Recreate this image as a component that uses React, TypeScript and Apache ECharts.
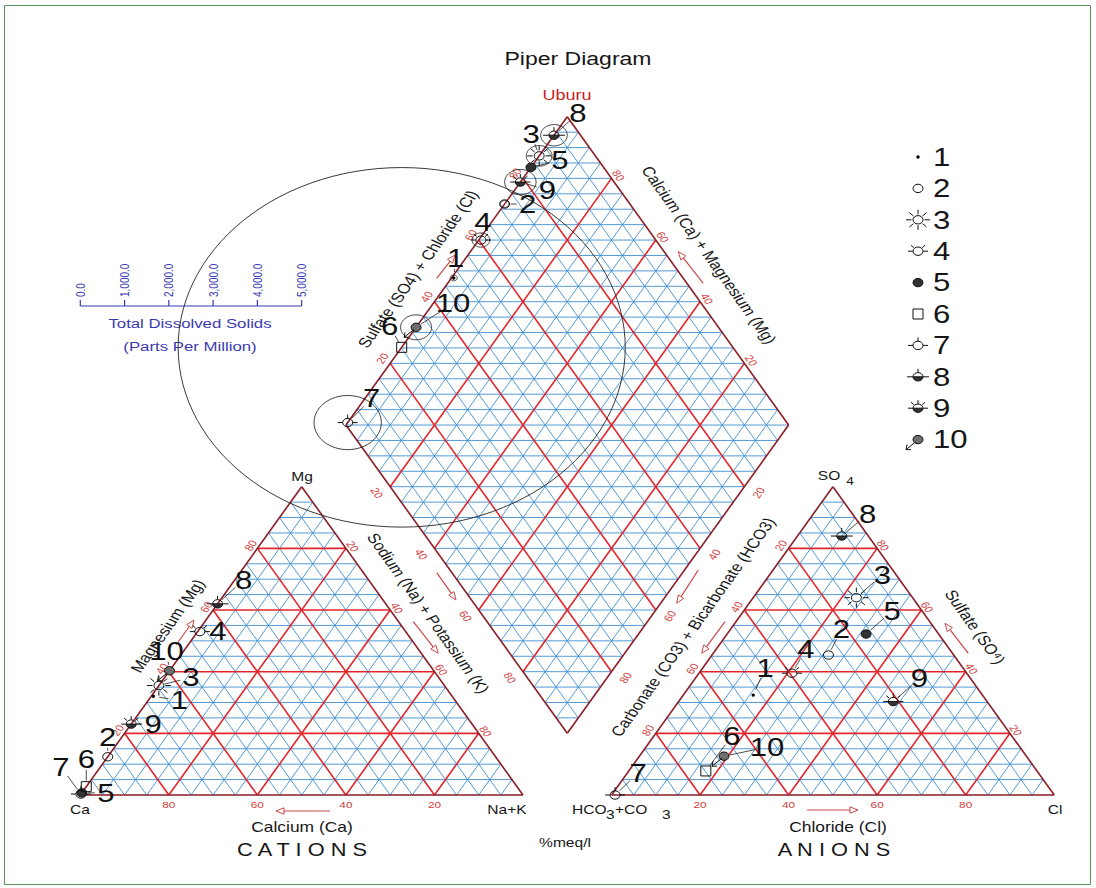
import React, { useEffect, useRef } from 'react';
import * as echarts from 'echarts';

// ---------------- data ----------------
const sampleIds = ['1', '2', '3', '4', '5', '6', '7', '8', '9', '10'];
// cations, % meq/l (Ca = 100 - Mg - Na+K)
const cationMg = [32, 12.4, 35.5, 53, 0.7, 2.7, 0.3, 62, 23, 40.3];
const cationNaK = [0.5, 0, 0, 0.5, 0, 0, 0, 0, 0, 0];
// anions, % meq/l (HCO3+CO3 = 100 - SO4 - Cl)
const anionSO4 = [32.4, 45.4, 64, 39.5, 52.2, 7.8, 0, 84, 30.3, 12.6];
const anionCl = [15.8, 26.3, 23.3, 21, 31.4, 17.4, 0.8, 10, 48.5, 19.1];
// total dissolved solids, ppm
const tdsPpm = [80, 95, 290, 200, 70, 5050, 760, 300, 355, 350];
const majorTicks = [20, 40, 60, 80];
const tdsTicks = [0, 1000, 2000, 3000, 4000, 5000];
const tdsTickLabels = ['0.0', '1,000.0', '2,000.0', '3,000.0', '4,000.0', '5,000.0'];

// ---------------- layout ----------------
const W = 1096, H = 888;
const PXU_X = 4.427, PXU_Y = 3.56, ORG_X = 80.3, ORG_Y = 795;
const X_MIN = -ORG_X / PXU_X, X_MAX = (W - ORG_X) / PXU_X;
const Y_MIN = -(H - ORG_Y) / PXU_Y, Y_MAX = ORG_Y / PXU_Y;
const K = PXU_X / PXU_Y; // horizontal stretch of the picture
const px = (u: number) => ORG_X + u * PXU_X;
const FONT = '"Liberation Sans", Arial, Helvetica, sans-serif';
const BLUE = '#3f8fd0', RED = '#e3262c', OUTLINE = '#8a1d26', TICK_RED = '#d23c3c', ARROW = '#c94848', TDS_BLUE = '#3a3ab0';
const R60 = Math.PI / 3;

const S = Math.sqrt(3) / 2, GAP = 20;
const cat = (mg: number, na: number) => [na + mg / 2, S * mg];
const ani = (so4: number, cl: number) => [100 + GAP + cl + so4 / 2, S * so4];
const dia = (na: number, a: number) => [(100 + GAP + a + na) / 2, S * (100 + GAP + a - na)];

// label offsets (pixels) for the sample numbers, per panel
const offCat = [[26, 4], [0, -20], [32, -8], [18, 0], [24, 0], [0, -28], [-20, -27], [26, -24], [22, 0], [-3, -20]];
const offAni = [[12, -27], [13, -26], [26, -23], [14, -24], [26, -23], [26, -35], [23, -22], [26, -22], [26, -23], [43, -9]];
const offDia = [[2, -20], [23, 0], [-8, -22], [2, -18], [29, -7], [-12, -21], [24, -24], [24, -22], [27, 8], [37, -24]];
const offsets = [offCat, offAni, offDia];

// ---------------- geometry built from data ----------------
function buildSegments() {
  const segs: number[][] = [];
  const add = (p: number[], q: number[], kind: number) => segs.push([p[0], p[1], q[0], q[1], kind]);
  for (let k = 5; k < 100; k += 5) {
    const kind = k % 20 === 0 ? 1 : 0;
    add(cat(k, 0), cat(k, 100 - k), kind);
    add(cat(0, k), cat(100 - k, k), kind);
    add(cat(0, 100 - k), cat(100 - k, 0), kind);
    add(ani(k, 0), ani(k, 100 - k), kind);
    add(ani(0, k), ani(100 - k, k), kind);
    add(ani(0, 100 - k), ani(100 - k, 0), kind);
    add(dia(k, 0), dia(k, 100), kind);
    add(dia(0, k), dia(100, k), kind);
  }
  for (let d = -95; d <= 95; d += 5) {
    if (d >= 0) add(dia(0, d), dia(100 - d, 100), 0);
    else add(dia(-d, 0), dia(100, 100 + d), 0);
  }
  const tri = (a: number[], b: number[], c: number[]) => { add(a, b, 2); add(b, c, 2); add(c, a, 2); };
  tri(cat(0, 0), cat(0, 100), cat(100, 0));
  tri(ani(0, 0), ani(0, 100), ani(100, 0));
  add(dia(0, 0), dia(100, 0), 2); add(dia(100, 0), dia(100, 100), 2);
  add(dia(100, 100), dia(0, 100), 2); add(dia(0, 100), dia(0, 0), 2);
  segs.sort((a, b) => a[4] - b[4]);
  return segs;
}

const tickKinds = [
  { dx: 0, dy: 9, rot: 0 },
  { dx: -7, dy: -3, rot: R60 },
  { dx: 7, dy: -2, rot: -R60 },
  { dx: -8, dy: -3, rot: R60 },
  { dx: 6, dy: -3, rot: -R60 },
  { dx: -8, dy: -5, rot: R60 },
  { dx: 7, dy: -3, rot: -R60 },
  { dx: -13, dy: 6, rot: -R60 },
  { dx: 14, dy: 6, rot: R60 },
];
function buildTicks() {
  const t: number[][] = [];
  const add = (p: number[], val: number, kind: number) => t.push([p[0], p[1], val, kind]);
  majorTicks.forEach((k) => {
    add(cat(0, k), 100 - k, 0);
    add(cat(k, 0), k, 1);
    add(cat(100 - k, k), k, 2);
    add(ani(0, k), k, 0);
    add(ani(100 - k, 0), k, 3);
    add(ani(k, 100 - k), k, 4);
    add(dia(0, k), k, 5);
    add(dia(100 - k, 100), k, 6);
    add(dia(k, 0), k, 7);
    add(dia(100, 100 - k), k, 8);
  });
  return t;
}

// ---------------- symbols ----------------
function symbolEls(i: number): any[] {
  const rx = 5, ry = 4.2;
  const st = { stroke: '#111', lineWidth: 1, fill: 'none' };
  const E = (fill = 'none') => ({ type: 'ellipse', shape: { cx: 0, cy: 0, rx, ry }, style: { ...st, fill } });
  const L = (x1: number, y1: number, x2: number, y2: number) => ({ type: 'line', shape: { x1, y1, x2, y2 }, style: { stroke: '#111', lineWidth: 1 } });
  const half = () => ({
    type: 'polygon',
    shape: { points: Array.from({ length: 13 }, (_, j) => [rx * Math.cos((Math.PI * j) / 12), ry * Math.sin((Math.PI * j) / 12)]) },
    style: { fill: '#333', stroke: 'none' },
  });
  const ray = (a: number, r0: number, r1: number) => L(r0 * Math.cos(a), -r0 * Math.sin(a) * 0.84, r1 * Math.cos(a), -r1 * Math.sin(a) * 0.84);
  switch (i) {
    case 0: return [{ type: 'circle', shape: { cx: 0, cy: 0, r: 1.7 }, style: { fill: '#000' } }];
    case 1: return [E()];
    case 2: return [E(), ...[0, 1, 2, 3, 4, 5, 6, 7].map((j) => ray((j * Math.PI) / 4, 6.5, 12))];
    case 3: return [E(), L(-10, 0, -5, 0), L(5, 0, 10, 0), ray(Math.PI / 4, 6, 10), ray((3 * Math.PI) / 4, 6, 10)];
    case 4: return [E('#333')];
    case 5: return [{ type: 'rect', shape: { x: -5, y: -5, width: 10, height: 10 }, style: st }];
    case 6: return [E(), L(-10, 0, -5, 0), L(5, 0, 10, 0), L(0, -4.2, 0, -8)];
    case 7: return [half(), E(), L(-11, 0, 11, 0), L(0, -8, 0, -4.2)];
    case 8: return [half(), E(), L(-10, 0, 10, 0), ray(Math.PI / 4, 6, 10), ray((3 * Math.PI) / 4, 6, 10), L(0, -4.2, 0, -8)];
    default: return [E('#6f6f6f'), L(-2, 2, -12, 10), L(-12, 10, -7, 10), L(-12, 10, -11, 5)];
  }
}

function txt(x: number, y: number, text: string, size: number, o: any = {}) {
  const align = o.align || 'center';
  const va = o.va || 'middle';
  return {
    type: 'group', x, y, scaleX: K, silent: true,
    children: [{
      type: 'text', rotation: o.rot || 0,
      style: { text, x: 0, y: 0, fill: o.color || '#161616', fontSize: size, fontFamily: FONT, align, verticalAlign: va, textAlign: align, textVerticalAlign: va },
    }],
  };
}

function arrow(x1: number, y1: number, x2: number, y2: number) {
  const dx = x2 - x1, dy = y2 - y1, L = Math.hypot(dx, dy), ux = dx / L, uy = dy / L;
  const hl = 8, hw = 3.2, bx = x2 - ux * hl, by = y2 - uy * hl;
  return [
    { type: 'line', shape: { x1, y1, x2: bx, y2: by }, style: { stroke: ARROW, lineWidth: 1.2 } },
    { type: 'polygon', shape: { points: [[x2, y2], [bx - uy * hw, by + ux * hw], [bx + uy * hw, by - ux * hw]] }, style: { fill: '#fff', stroke: ARROW, lineWidth: 1 } },
  ];
}

function buildGraphic() {
  const g: any[] = [];
  g.push({ type: 'rect', shape: { x: 4.5, y: 5.5, width: 1086, height: 879 }, style: { fill: 'none', stroke: '#5b935b', lineWidth: 1 }, z: 0 });
  // titles and vertex labels
  g.push(txt(578, 58, 'Piper Diagram', 18.5));
  g.push(txt(567, 95, 'Uburu', 14.5, { color: '#cc1f1f' }));
  g.push(txt(302, 477, 'Mg', 12.5));
  g.push(txt(80, 810, 'Ca', 12.5));
  g.push(txt(507, 810, 'Na+K', 12.5));
  g.push(txt(572, 810, 'HCO', 12.5, { align: 'left' }));
  g.push(txt(606, 815, '3', 12.5, { align: 'left' }));
  g.push(txt(615, 810, '+CO', 12.5, { align: 'left' }));
  g.push(txt(662, 815, '3', 12.5, { align: 'left' }));
  g.push(txt(1055, 810, 'Cl', 12.5));
  g.push(txt(829, 476, 'SO', 12.5));
  g.push(txt(850, 481, '4', 11));
  g.push(txt(302, 827, 'Calcium (Ca)', 14));
  g.push(txt(302, 850, 'C A T I O N S', 17.5));
  g.push(txt(565, 843, '%meq/l', 12.5));
  g.push(txt(838, 827, 'Chloride (Cl)', 14));
  g.push(txt(834, 850, 'A N I O N S', 17.5));
  // rotated axis titles
  g.push(txt(167.5, 626, 'Magnesium (Mg)', 14, { rot: R60 }));
  g.push(txt(428.3, 613.3, 'Sodium (Na) + Potassium (K)', 14, { rot: -R60 }));
  g.push(txt(418, 269, 'Sulfate (SO4) + Chloride (Cl)', 14, { rot: R60 }));
  g.push(txt(709, 255, 'Calcium (Ca) + Magnesium (Mg)', 14, { rot: -R60 }));
  g.push(txt(693, 627, 'Carbonate (CO3) + Bicarbonate (HCO3)', 14, { rot: R60 }));
  g.push(txt(975, 627, 'Sulfate (SO\u2074)', 14, { rot: -R60 }));
  // red direction arrows
  const arrows = [
    [330, 811, 276, 811], [176, 645, 194, 620], [413.3, 621.7, 438.3, 653.3],
    [436.7, 572.7, 456, 600], [436.7, 278.3, 455, 255], [703.3, 283.3, 678.3, 251.7],
    [698.3, 570, 676.7, 603.3], [725, 621.7, 701.7, 653.3], [807, 810, 858, 810], [968.3, 653.3, 945, 623.3],
  ];
  arrows.forEach((a) => g.push(...arrow(a[0], a[1], a[2], a[3])));
  // TDS scale
  const yS = 306;
  g.push({ type: 'line', shape: { x1: px(tdsTicks[0] / 100), y1: yS, x2: px(tdsTicks[tdsTicks.length - 1] / 100), y2: yS }, style: { stroke: TDS_BLUE, lineWidth: 1.2 } });
  tdsTicks.forEach((t, i) => {
    const x = px(t / 100);
    g.push({ type: 'line', shape: { x1: x, y1: yS, x2: x, y2: yS - 6 }, style: { stroke: TDS_BLUE, lineWidth: 1.2 } });
    g.push(txt(x, 297, tdsTickLabels[i], 10, { rot: Math.PI / 2, align: 'left', color: TDS_BLUE }));
  });
  g.push(txt(190, 323, 'Total Dissolved Solids', 13.5, { color: TDS_BLUE }));
  g.push(txt(190, 346, '(Parts Per Million)', 13.5, { color: TDS_BLUE }));
  // legend
  sampleIds.forEach((id, i) => {
    const y = 157 + i * 31.4;
    g.push({ type: 'group', x: 918, y, silent: true, children: symbolEls(i) });
    g.push(txt(933, y, id, 25, { align: 'left' }));
  });
  return g;
}

export default function App() {
  const ref = useRef<HTMLDivElement>(null);
  useEffect(() => {
    document.body.style.margin = '0';
    const chart = echarts.init(ref.current as HTMLDivElement, undefined, { renderer: 'svg' });
    const segs = buildSegments();
    const ticks = buildTicks();
    const pts: number[][] = [];
    sampleIds.forEach((_, i) => {
      const c = cat(cationMg[i], cationNaK[i]);
      const a = ani(anionSO4[i], anionCl[i]);
      const d = dia(cationNaK[i], anionSO4[i] + anionCl[i]);
      pts.push([c[0], c[1], i, 0], [a[0], a[1], i, 1], [d[0], d[1], i, 2]);
    });
    const tdsData = sampleIds.map((_, i) => {
      const d = dia(cationNaK[i], anionSO4[i] + anionCl[i]);
      return [d[0], d[1], tdsPpm[i] / 100];
    });
    const colors = [BLUE, RED, OUTLINE];
    const widths = [0.9, 1.6, 1.6];
    const option: any = {
      animation: false,
      backgroundColor: '#fff',
      tooltip: { show: false },
      grid: { left: 0, right: 0, top: 0, bottom: 0 },
      xAxis: { type: 'value', min: X_MIN, max: X_MAX, show: false },
      yAxis: { type: 'value', min: Y_MIN, max: Y_MAX, show: false },
      graphic: buildGraphic(),
      series: [
        {
          type: 'custom', coordinateSystem: 'cartesian2d', silent: true, data: segs,
          renderItem: (_p: any, api: any) => {
            const a = api.coord([api.value(0), api.value(1)]);
            const b = api.coord([api.value(2), api.value(3)]);
            const k = api.value(4);
            return { type: 'line', shape: { x1: a[0], y1: a[1], x2: b[0], y2: b[1] }, style: { stroke: colors[k], lineWidth: widths[k] } };
          },
        },
        {
          type: 'custom', coordinateSystem: 'cartesian2d', silent: true, data: ticks,
          renderItem: (_p: any, api: any) => {
            const p = api.coord([api.value(0), api.value(1)]);
            const kd = tickKinds[api.value(3)];
            return {
              type: 'group', x: p[0] + kd.dx, y: p[1] + kd.dy, scaleX: K,
              children: [{ type: 'text', rotation: kd.rot, style: { text: String(api.value(2)), fontSize: 9.5, fontFamily: FONT, fill: TICK_RED, align: 'center', verticalAlign: 'middle' } }],
            };
          },
        },
        {
          type: 'custom', coordinateSystem: 'cartesian2d', silent: true, data: tdsData,
          renderItem: (_p: any, api: any) => {
            const cx = api.value(0), cy = api.value(1), r = api.value(2);
            const points: number[][] = [];
            for (let j = 0; j <= 120; j++) {
              const t = (2 * Math.PI * j) / 120;
              points.push(api.coord([cx + r * Math.cos(t), cy + r * Math.sin(t)]));
            }
            return { type: 'polyline', shape: { points }, style: { stroke: '#222', lineWidth: 0.9, fill: 'none' } };
          },
        },
        {
          type: 'custom', coordinateSystem: 'cartesian2d', silent: true, data: pts,
          renderItem: (_p: any, api: any) => {
            const p = api.coord([api.value(0), api.value(1)]);
            return { type: 'group', x: p[0], y: p[1], children: symbolEls(api.value(2)) };
          },
        },
        {
          type: 'custom', coordinateSystem: 'cartesian2d', silent: true, data: pts,
          renderItem: (_p: any, api: any) => {
            const p = api.coord([api.value(0), api.value(1)]);
            const idx = api.value(2), panel = api.value(3);
            const [dx, dy] = offsets[panel][idx];
            const d = Math.hypot(dx, dy);
            const children: any[] = [];
            if (d > 16) {
              const s0 = 6 / d, s1 = (d - 11) / d;
              children.push({ type: 'line', shape: { x1: p[0] + dx * s0, y1: p[1] + dy * s0, x2: p[0] + dx * s1, y2: p[1] + dy * s1 }, style: { stroke: '#222', lineWidth: 0.8 } });
            }
            children.push({
              type: 'group', x: p[0] + dx, y: p[1] + dy, scaleX: K,
              children: [{ type: 'text', style: { text: sampleIds[idx], fontSize: 25, fontFamily: FONT, fill: '#111', align: 'center', verticalAlign: 'middle' } }],
            });
            return { type: 'group', children };
          },
        },
      ],
    };
    chart.setOption(option);
    return () => chart.dispose();
  }, []);
  return <div ref={ref} style={{ position: 'relative', width: W, height: H, background: '#fff' }} />;
}
